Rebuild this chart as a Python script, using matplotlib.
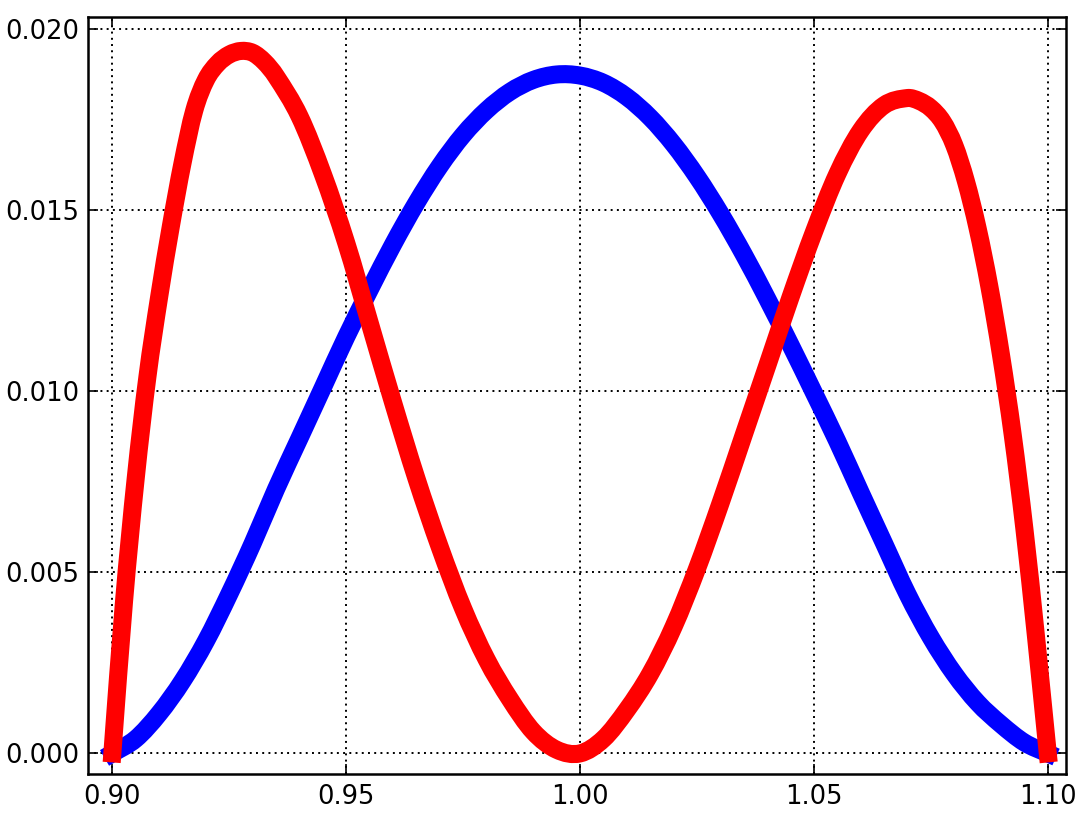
import matplotlib
matplotlib.use("Agg")
import matplotlib.pyplot as plt
from matplotlib.path import Path
from matplotlib.patches import PathPatch

# blue curve, every 0.005
blue_x = [0.900, 0.905, 0.910, 0.915, 0.920, 0.925, 0.930, 0.935, 0.940, 0.945,
          0.950, 0.955, 0.960, 0.965, 0.970, 0.975, 0.980, 0.985, 0.990, 0.995,
          1.000, 1.005, 1.010, 1.015, 1.020, 1.025, 1.030, 1.035, 1.040, 1.045,
          1.050, 1.055, 1.060, 1.065, 1.070, 1.075, 1.080, 1.085, 1.090, 1.095,
          1.100]
blue_y = [0.0, 0.0004, 0.0011, 0.0020, 0.0031, 0.0044, 0.0058, 0.0073, 0.0087, 0.0101,
          0.0115, 0.0128, 0.01405, 0.0152, 0.01622, 0.01708, 0.01776, 0.01827, 0.01860, 0.01875,
          0.01872, 0.01852, 0.01813, 0.01756, 0.01682, 0.01593, 0.01491, 0.01378, 0.01256, 0.01128,
          0.00996, 0.00862, 0.0072, 0.0058, 0.0044, 0.0032, 0.0022, 0.0014, 0.0008, 0.0003,
          0.0]

# red curve, denser near the steep ends and the first peak
red_x = [0.900, 0.9025, 0.905, 0.9075, 0.910, 0.9125, 0.915, 0.9175, 0.920, 0.9225,
         0.925, 0.9275, 0.930, 0.9325, 0.935, 0.940, 0.945, 0.950, 0.955, 0.960,
         0.965, 0.970, 0.975, 0.980, 0.985, 0.990, 0.995, 1.000, 1.005, 1.010,
         1.015, 1.020, 1.025, 1.030, 1.035, 1.040, 1.045, 1.050, 1.055, 1.060,
         1.065, 1.070, 1.0725, 1.075, 1.0775, 1.080, 1.0825, 1.085, 1.0875, 1.090,
         1.0925, 1.095, 1.0975, 1.100]
red_y = [0.0, 0.0042, 0.0076, 0.0104, 0.0126, 0.01455, 0.0163, 0.01775, 0.0186, 0.01905,
         0.0193, 0.0194, 0.01935, 0.0191, 0.0187, 0.0176, 0.0160, 0.0141, 0.0119, 0.0097,
         0.0076, 0.0057, 0.0040, 0.0026, 0.0015, 0.0006, 0.0001, 0.0, 0.0004, 0.0012,
         0.0022, 0.0035, 0.0051, 0.0069, 0.0088, 0.0107, 0.0126, 0.0144, 0.0160, 0.0172,
         0.0179, 0.0181, 0.01802, 0.01782, 0.01745, 0.0168, 0.0158, 0.0145, 0.0129, 0.0110,
         0.0088, 0.0062, 0.0032, 0.0]

x_ticks = [0.90, 0.95, 1.00, 1.05, 1.10]
y_ticks = [0.000, 0.005, 0.010, 0.015, 0.020]


def smooth_line(ax, xs, ys, color, lw):
    # draw a smooth (cubic) line through the points instead of straight segments
    n = len(xs)
    slopes = []
    for i in range(n):
        a = max(i - 1, 0)
        b = min(i + 1, n - 1)
        slopes.append((ys[b] - ys[a]) / (xs[b] - xs[a]))
    verts = [(xs[0], ys[0])]
    codes = [Path.MOVETO]
    for i in range(n - 1):
        h = xs[i + 1] - xs[i]
        verts.append((xs[i] + h / 3, ys[i] + slopes[i] * h / 3))
        verts.append((xs[i + 1] - h / 3, ys[i + 1] - slopes[i + 1] * h / 3))
        verts.append((xs[i + 1], ys[i + 1]))
        codes += [Path.CURVE4] * 3
    patch = PathPatch(Path(verts, codes), fill=False, edgecolor=color,
                      linewidth=lw, capstyle='projecting', joinstyle='round')
    ax.add_patch(patch)


plt.rcParams['font.family'] = ['DejaVu Sans']

fig = plt.figure(figsize=(10.88, 8.23), dpi=100)
ax = fig.add_axes([0.0809, 0.0595, 0.8989, 0.9195])

smooth_line(ax, blue_x, blue_y, '#0000ff', 13)
smooth_line(ax, red_x, red_y, '#ff0000', 13)

ax.set_xlim(0.8948, 1.1039)
ax.set_ylim(-0.00057, 0.02033)
ax.set_xticks(x_ticks)
ax.set_yticks(y_ticks)
ax.set_xticklabels(['%.2f' % v for v in x_ticks])
ax.set_yticklabels(['%.3f' % v for v in y_ticks])

ax.grid(True, color='black', linestyle=(0, (1, 2.2)), linewidth=1.4)
ax.set_axisbelow(True)
ax.tick_params(direction='in', length=7, width=1.2, top=True, right=True,
               labelsize=18.5, colors='black')
ax.tick_params(axis='x', pad=7)
ax.tick_params(axis='y', pad=6)
for s in ax.spines.values():
    s.set_linewidth(1.8)

fig.savefig('out.png', dpi=100)
